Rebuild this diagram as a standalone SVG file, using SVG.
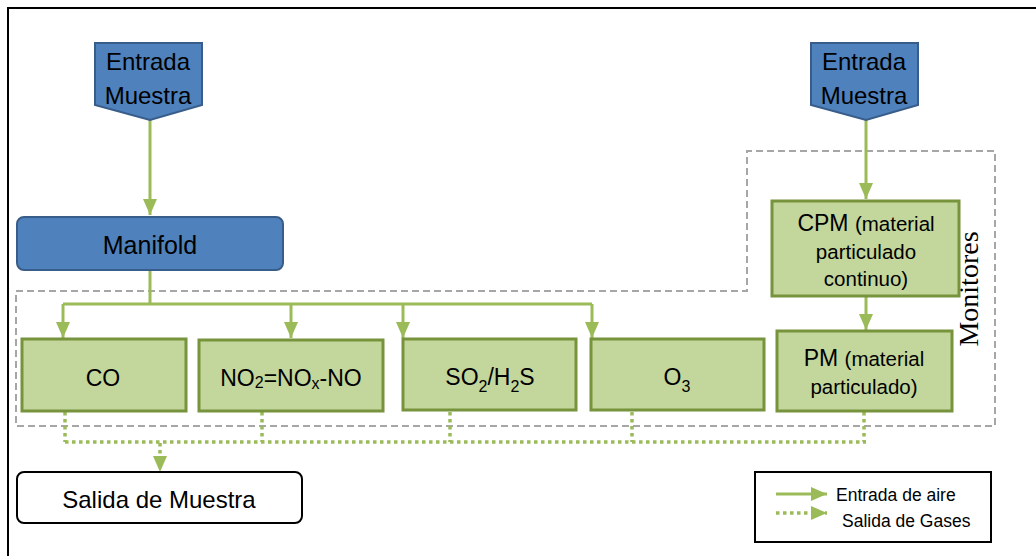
<svg xmlns="http://www.w3.org/2000/svg" width="1036" height="556" viewBox="0 0 1036 556">
<style>
text{font-family:"Liberation Sans",Arial,sans-serif;fill:#000;}
.blue{fill:#4F81BD;stroke:#385D8A;stroke-width:2;}
.green{fill:#C3D69B;stroke:#77933C;stroke-width:3;}
.flow{fill:none;stroke:#9BBB59;stroke-width:3;}
.out{fill:none;stroke:#9BBB59;stroke-width:3.5;stroke-dasharray:3.5 3.5;}
.grp{fill:none;stroke:#A6A6A6;stroke-width:2;stroke-dasharray:7 4;}
.t24{font-size:24px;text-anchor:middle;}
.t23{font-size:23px;text-anchor:middle;}
.leg{font-size:17.5px;}
</style>
<defs>
<marker id="ah" markerUnits="userSpaceOnUse" markerWidth="16" markerHeight="14" viewBox="0 0 16 14" refX="16" refY="7" orient="auto">
<path d="M0,0 L16,7 L0,14 z" fill="#9BBB59"/>
</marker>
</defs>
<rect x="0" y="0" width="1036" height="556" fill="#fff"/>
<path d="M8,556 L8,8 L1036,8" fill="none" stroke="#000" stroke-width="2"/>

<g id="group-monitores">
<path class="grp" d="M16,291 L747,291 L747,151 L995,151 L995,426 L16,426 Z"/>
<text x="978" y="289" transform="rotate(-90 978 289)" style="font-family:'Liberation Serif','Times New Roman',serif;font-size:28px;" text-anchor="middle">Monitores</text>
</g>

<g id="connectors">
<path class="flow" d="M150,120 L150,215" marker-end="url(#ah)"/>
<path class="flow" d="M150,270 L150,304"/>
<path class="flow" d="M63,304 L592,304"/>
<path class="flow" d="M63,304 L63,338" marker-end="url(#ah)"/>
<path class="flow" d="M291,304 L291,338" marker-end="url(#ah)"/>
<path class="flow" d="M403,304 L403,338" marker-end="url(#ah)"/>
<path class="flow" d="M592,304 L592,338" marker-end="url(#ah)"/>
<path class="flow" d="M866,120 L866,199" marker-end="url(#ah)"/>
<path class="flow" d="M866,296 L866,330" marker-end="url(#ah)"/>
<path class="out" d="M65,412 L65,442 M262,412 L262,442 M450,412 L450,442 M632,412 L632,442 M864,412 L864,442 M65,442 L866,442"/>
<path class="out" d="M160,443 L160,472" marker-end="url(#ah)"/>
</g>

<g id="entrada-1">
<path class="blue" d="M95,43 L202,43 L202,105 L150,120 L95,105 Z"/>
<text class="t24" x="148" y="70">Entrada</text>
<text class="t24" x="148" y="104">Muestra</text>
</g>
<g id="entrada-2">
<path class="blue" d="M811,43 L918,43 L918,105 L866,120 L811,105 Z"/>
<text class="t24" x="864" y="70">Entrada</text>
<text class="t24" x="864" y="104">Muestra</text>
</g>
<g id="manifold">
<rect class="blue" x="17" y="217" width="266" height="53" rx="7"/>
<text x="150" y="254" font-size="25" text-anchor="middle">Manifold</text>
</g>
<g id="co">
<rect class="green" x="22" y="339" width="164" height="72"/>
<text class="t23" x="103" y="386">CO</text>
</g>
<g id="no2">
<rect class="green" x="199" y="340" width="184" height="71"/>
<text class="t23" x="291" y="386">NO<tspan font-size="16" dy="2">2</tspan><tspan dy="-2">=NO</tspan><tspan font-size="16" dy="3">x</tspan><tspan dy="-3">-NO</tspan></text>
</g>
<g id="so2">
<rect class="green" x="403" y="339" width="173" height="71"/>
<text class="t23" x="490" y="385">SO<tspan font-size="16" dy="7">2</tspan><tspan dy="-7">/H</tspan><tspan font-size="16" dy="7">2</tspan><tspan dy="-7">S</tspan></text>
</g>
<g id="o3">
<rect class="green" x="591" y="339" width="173" height="71"/>
<text class="t23" x="677" y="385">O<tspan font-size="16" dy="7">3</tspan></text>
</g>
<g id="cpm">
<rect class="green" x="772" y="201" width="187" height="95"/>
<text x="866" y="231" text-anchor="middle"><tspan font-size="23">CPM </tspan><tspan font-size="20.5">(material</tspan></text>
<text x="866" y="259" text-anchor="middle" font-size="20.5">particulado</text>
<text x="866" y="286" text-anchor="middle" font-size="20.5">continuo)</text>
</g>
<g id="pm">
<rect class="green" x="777" y="331" width="175" height="80"/>
<text x="864" y="366" text-anchor="middle"><tspan font-size="23">PM </tspan><tspan font-size="20.5">(material</tspan></text>
<text x="864" y="394" text-anchor="middle" font-size="20.5">particulado)</text>
</g>
<g id="salida">
<rect x="17" y="472" width="285" height="51" rx="7" fill="#fff" stroke="#000" stroke-width="2"/>
<text class="t24" x="159" y="508">Salida de Muestra</text>
</g>
<g id="legend">
<rect x="755" y="472" width="236" height="70" fill="#fff" stroke="#000" stroke-width="2"/>
<path class="flow" d="M776,494 L827,494" marker-end="url(#ah)"/>
<path class="out" d="M776,513 L827,513" marker-end="url(#ah)"/>
<text class="leg" x="836" y="501">Entrada de aire</text>
<text class="leg" x="842" y="527">Salida de Gases</text>
</g>
</svg>
